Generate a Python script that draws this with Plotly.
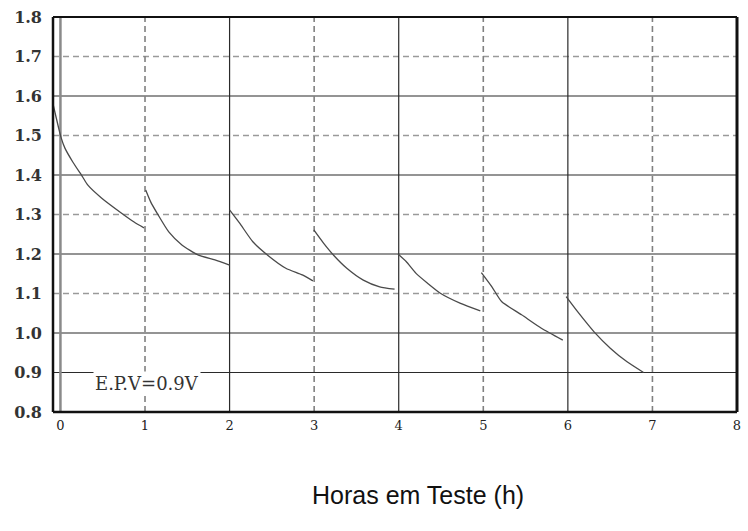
import plotly.graph_objects as go

# Discharge curves, one segment per test hour (hours, volts); None breaks the line
hours = [
    -0.088, -0.05, 0.006, 0.053, 0.146, 0.263, 0.322, 0.485, 0.719, 0.871, 0.988, None,
    1.008, 1.067, 1.144, 1.281, 1.436, 1.632, 1.827, 2.0, None,
    2.002, 2.119, 2.275, 2.45, 2.665, 2.86, 2.985, None,
    2.996, 3.113, 3.23, 3.386, 3.581, 3.775, 3.951, None,
    3.991, 4.088, 4.205, 4.341, 4.497, 4.731, 4.965, None,
    4.977, 5.102, 5.219, 5.453, 5.687, 5.94, None,
    5.98, 6.115, 6.31, 6.505, 6.7, 6.895,
]
volts = [
    1.580, 1.545, 1.496, 1.468, 1.433, 1.395, 1.375, 1.342, 1.304, 1.281, 1.266, None,
    1.362, 1.332, 1.303, 1.256, 1.223, 1.197, 1.185, 1.172, None,
    1.311, 1.278, 1.231, 1.197, 1.164, 1.147, 1.132, None,
    1.261, 1.227, 1.197, 1.164, 1.134, 1.117, 1.111, None,
    1.200, 1.181, 1.151, 1.126, 1.100, 1.075, 1.056, None,
    1.153, 1.117, 1.079, 1.046, 1.012, 0.982, None,
    1.092, 1.054, 1.003, 0.961, 0.927, 0.900,
]

x_ticks = [0, 1, 2, 3, 4, 5, 6, 7, 8]
y_ticks = [0.8, 0.9, 1.0, 1.1, 1.2, 1.3, 1.4, 1.5, 1.6, 1.7, 1.8]
x_dashed = [1, 3, 5, 7]
x_solid = [2, 4, 6]
y_dashed = [1.1, 1.3, 1.5, 1.7]
y_solid = [0.9, 1.0, 1.2, 1.4, 1.6]
x_range = [-0.088, 8]
y_range = [0.8, 1.8]
cutoff_label = "E.P.V=0.9V"
x_title = "Horas em Teste (h)"

fig = go.Figure()
fig.add_trace(go.Scatter(
    x=hours, y=volts, mode="lines",
    line=dict(color="#4a4a4a", width=1.3, shape="spline", smoothing=0.6),
    connectgaps=False, hoverinfo="skip", showlegend=False,
))

shapes = []
for yv in y_solid:
    shapes.append(dict(type="line", xref="paper", yref="y", x0=0, x1=1, y0=yv, y1=yv,
                       line=dict(color="#2a2a2a", width=1.2), layer="below"))
for yv in y_dashed:
    shapes.append(dict(type="line", xref="paper", yref="y", x0=0, x1=1, y0=yv, y1=yv,
                       line=dict(color="#9a9a9a", width=1.6, dash="6px,4px"), layer="below"))
for xv in x_solid:
    shapes.append(dict(type="line", xref="x", yref="paper", x0=xv, x1=xv, y0=0, y1=1,
                       line=dict(color="#2a2a2a", width=1.2), layer="below"))
for xv in x_dashed:
    shapes.append(dict(type="line", xref="x", yref="paper", x0=xv, x1=xv, y0=0, y1=1,
                       line=dict(color="#808080", width=1.6, dash="6px,4px"), layer="below"))
# grey double line at hour zero
shapes.append(dict(type="line", xref="x", yref="paper", x0=0, x1=0, y0=0, y1=1,
                   line=dict(color="#8a8a8a", width=2.5), layer="below"))
# chart frame
shapes += [
    dict(type="line", xref="paper", yref="paper", x0=0, x1=0, y0=0, y1=1,
         line=dict(color="#111", width=2.5)),
    dict(type="line", xref="paper", yref="paper", x0=1, x1=1, y0=0, y1=1,
         line=dict(color="#111", width=3)),
    dict(type="line", xref="paper", yref="paper", x0=0, x1=1, y0=1, y1=1,
         line=dict(color="#111", width=1.8)),
    dict(type="line", xref="paper", yref="paper", x0=0, x1=1, y0=0, y1=0,
         line=dict(color="#111", width=2.5)),
]

fig.update_layout(
    width=748, height=531,
    margin=dict(l=53, r=7, t=17, b=119),
    paper_bgcolor="white", plot_bgcolor="white",
    shapes=shapes,
    xaxis=dict(range=x_range, tickvals=x_ticks, ticktext=[str(v) for v in x_ticks],
               showgrid=False, zeroline=False, showline=False, ticks="",
               ticklabelstandoff=4,
               tickfont=dict(family="DejaVu Serif", size=13, color="#222")),
    yaxis=dict(range=y_range, tickvals=y_ticks,
               ticktext=[f"<b>{v:.1f}</b>" for v in y_ticks],
               showgrid=False, zeroline=False, showline=False, ticks="",
               ticklabelstandoff=10,
               tickfont=dict(family="DejaVu Serif", size=16, color="#333")),
    annotations=[
        dict(x=1.02, y=0.871, xref="x", yref="y", text=cutoff_label, showarrow=False,
             font=dict(family="DejaVu Serif", size=18, color="#333"),
             bgcolor="white", borderpad=1),
        dict(x=0.533, y=-0.21, xref="paper", yref="paper", text=x_title, showarrow=False,
             xanchor="center", yanchor="middle",
             font=dict(family="Liberation Sans", size=25, color="#111")),
    ],
)

fig.write_html("out.html")
